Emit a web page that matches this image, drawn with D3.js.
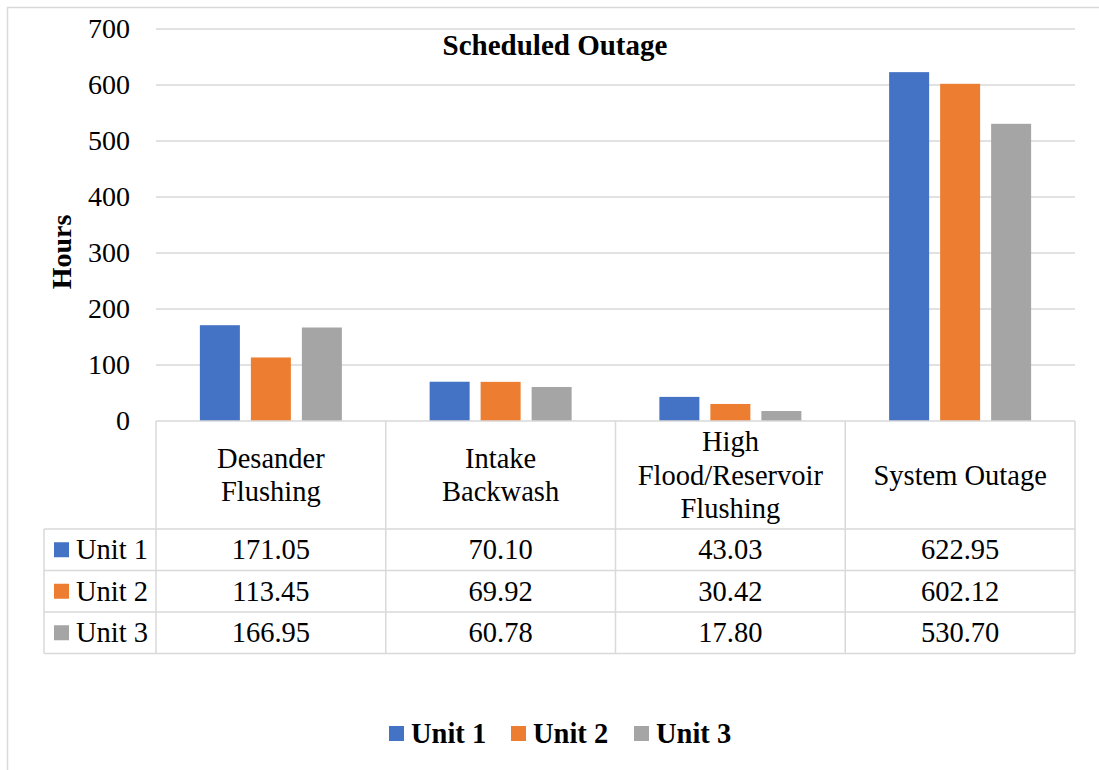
<!DOCTYPE html>
<html>
<head>
<meta charset="utf-8">
<script src="https://cdn.jsdelivr.net/npm/d3@7"></script>
<style>
  html, body { margin: 0; padding: 0; background: #fff; }
  svg { display: block; }
</style>
</head>
<body>
<svg id="chart" width="1099" height="770" font-family="Liberation Serif"></svg>
<script>
// Scheduled outage hours per unit and cause
const categories = [
  ["Desander", "Flushing"],
  ["Intake", "Backwash"],
  ["High", "Flood/Reservoir", "Flushing"],
  ["System Outage"]
];
const seriesNames = ["Unit 1", "Unit 2", "Unit 3"];
const unit1 = [171.05, 70.10, 43.03, 622.95];
const unit2 = [113.45, 69.92, 30.42, 602.12];
const unit3 = [166.95, 60.78, 17.80, 530.70];
const yTicks = [0, 100, 200, 300, 400, 500, 600, 700];
const colors = ["#4472C4", "#ED7D31", "#A5A5A5"];

const seriesValues = [unit1, unit2, unit3];
const catKeys = categories.map(c => c.join(" "));

const svg = d3.select("#chart");
const grid = "#D9D9D9";
const serif = "Liberation Serif";
const fs = 28.5;

const addText = (parent, size, weight) => parent.append("text")
  .attr("font-family", serif)
  .attr("font-size", size)
  .attr("font-weight", weight || "normal")
  .attr("fill", "#000");

// chart frame
svg.append("rect")
  .attr("x", 7.5).attr("y", 7.5)
  .attr("width", 1200).attr("height", 900)
  .attr("fill", "none").attr("stroke", grid).attr("stroke-width", 1.5);

const plot = { left: 156, right: 1075, top: 29, bottom: 421 };

const x = d3.scaleBand().domain(catKeys).range([plot.left, plot.right]).padding(0);
const y = d3.scaleLinear().domain([0, 700]).range([plot.bottom, plot.top]);
const x1 = d3.scaleBand().domain(seriesNames).range([-71, 71]).paddingInner(11 / 51).paddingOuter(0);
const color = d3.scaleOrdinal().domain(seriesNames).range(colors);

// gridlines
svg.append("g").selectAll("line").data(yTicks.filter(t => t > 0)).join("line")
  .attr("x1", plot.left).attr("x2", plot.right)
  .attr("y1", d => y(d)).attr("y2", d => y(d))
  .attr("stroke", grid).attr("stroke-width", 1.5);

// y axis labels
const yAxis = d3.axisLeft(y).tickValues(yTicks).tickSize(0).tickPadding(26);
const gy = svg.append("g").attr("transform", `translate(${plot.left},0)`).call(yAxis)
  .attr("font-family", serif).attr("font-size", 28);
gy.select(".domain").remove();
gy.selectAll("text").attr("fill", "#000");

// bars
const groups = svg.append("g").selectAll("g").data(catKeys).join("g")
  .attr("transform", d => `translate(${x(d) + x.bandwidth() / 2},0)`);
groups.selectAll("rect")
  .data((d, i) => seriesNames.map((s, j) => ({ s, v: seriesValues[j][i] })))
  .join("rect")
  .attr("x", d => x1(d.s))
  .attr("width", x1.bandwidth())
  .attr("y", d => y(d.v))
  .attr("height", d => y(0) - y(d.v))
  .attr("fill", d => color(d.s));

// title
addText(svg, 29, "bold")
  .attr("x", 555).attr("y", 55)
  .attr("text-anchor", "middle")
  .text("Scheduled Outage");

// y axis title
addText(svg, 28, "bold")
  .attr("transform", "translate(71,252) rotate(-90)")
  .attr("text-anchor", "middle")
  .text("Hours");

// data table
const headerBottom = 529;
const rowH = 41.5;
const tableLeft = 44;
const table = svg.append("g");
const lineStyle = sel => sel.attr("stroke", grid).attr("stroke-width", 1.5);

// horizontal lines
table.append("line").attr("x1", plot.left).attr("x2", plot.right)
  .attr("y1", plot.bottom).attr("y2", plot.bottom).call(lineStyle);
[0, 1, 2, 3].forEach(i => {
  const yy = headerBottom + i * rowH;
  table.append("line").attr("x1", tableLeft).attr("x2", plot.right)
    .attr("y1", yy).attr("y2", yy).call(lineStyle);
});
// vertical lines
const tableBottom = headerBottom + 3 * rowH;
table.append("line").attr("x1", tableLeft).attr("x2", tableLeft)
  .attr("y1", headerBottom).attr("y2", tableBottom).call(lineStyle);
catKeys.forEach(k => {
  table.append("line").attr("x1", x(k)).attr("x2", x(k))
    .attr("y1", plot.bottom).attr("y2", tableBottom).call(lineStyle);
});
table.append("line").attr("x1", plot.right).attr("x2", plot.right)
  .attr("y1", plot.bottom).attr("y2", tableBottom).call(lineStyle);

// category header labels
const headerMid = (plot.bottom + headerBottom) / 2;
categories.forEach((lines, i) => {
  const cx = x(catKeys[i]) + x.bandwidth() / 2;
  lines.forEach((ln, j) => {
    addText(table, fs)
      .attr("x", cx)
      .attr("y", headerMid + (j - (lines.length - 1) / 2) * 33.5 + 9.5)
      .attr("text-anchor", "middle")
      .text(ln);
  });
});

// series rows
seriesNames.forEach((s, r) => {
  const mid = headerBottom + r * rowH + rowH / 2;
  table.append("rect")
    .attr("x", 54).attr("y", mid - 7.5).attr("width", 15).attr("height", 15)
    .attr("fill", color(s));
  addText(table, fs)
    .attr("x", 76).attr("y", mid + 9.5)
    .text(s);
  seriesValues[r].forEach((v, i) => {
    addText(table, fs)
      .attr("x", x(catKeys[i]) + x.bandwidth() / 2)
      .attr("y", mid + 9.5)
      .attr("text-anchor", "middle")
      .text(v.toFixed(2));
  });
});

// legend
const legendX = [389, 511, 634];
const legend = svg.append("g");
seriesNames.forEach((s, i) => {
  legend.append("rect")
    .attr("x", legendX[i]).attr("y", 726).attr("width", 15).attr("height", 15)
    .attr("fill", color(s));
  addText(legend, 28.5, "bold")
    .attr("x", legendX[i] + 22).attr("y", 743)
    .text(s);
});
</script>
</body>
</html>
